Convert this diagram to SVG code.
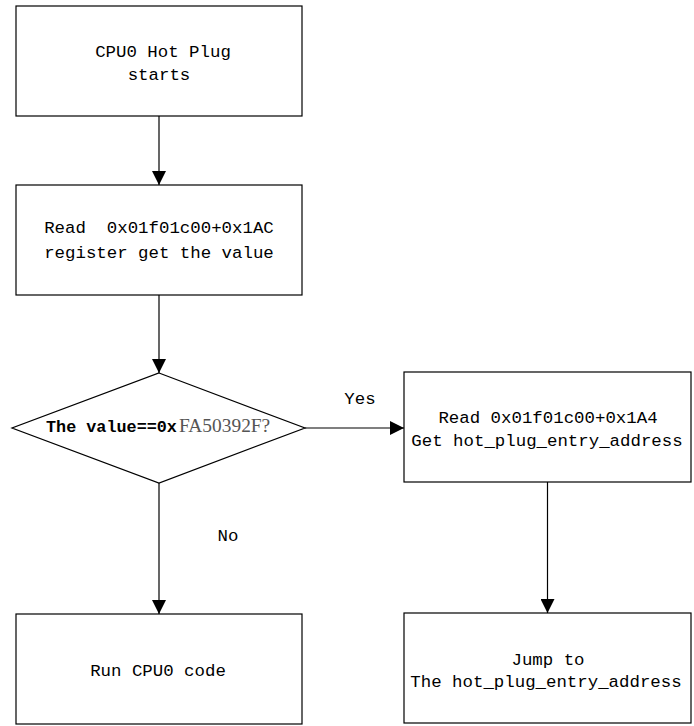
<svg xmlns="http://www.w3.org/2000/svg" width="694" height="726" viewBox="0 0 694 726">
<defs>
<marker id="arr" viewBox="0 0 14 14" refX="14" refY="7" markerWidth="14" markerHeight="14" markerUnits="userSpaceOnUse" orient="auto">
<path d="M0,0 L14,7 L0,14 Z" fill="#000"/>
</marker>
<style>
.box{fill:#fff;stroke:#000;stroke-width:1.2}
.t{font-family:"Liberation Mono","DejaVu Sans Mono",monospace;font-size:17.4px;fill:#000;text-anchor:middle}
.c{fill:none;stroke:#000;stroke-width:1.2;marker-end:url(#arr)}
</style>
</defs>
<rect width="694" height="726" fill="#fff"/>
<g id="connectors">
<line class="c" x1="159" y1="116" x2="159" y2="185"/>
<line class="c" x1="159" y1="295" x2="159" y2="373"/>
<line class="c" x1="305" y1="428" x2="404" y2="428"/>
<line class="c" x1="159" y1="483" x2="159" y2="614"/>
<line class="c" x1="547.5" y1="482" x2="547.5" y2="613"/>
<text class="t" x="360" y="404">Yes</text>
<text class="t" x="228" y="541">No</text>
</g>
<g id="start">
<rect class="box" x="16" y="6" width="286" height="110"/>
<text class="t" x="163" y="57">CPU0 Hot Plug</text>
<text class="t" x="159" y="80">starts</text>
</g>
<g id="read1">
<rect class="box" x="16" y="185" width="286" height="110"/>
<text class="t" x="159" y="233" xml:space="preserve">Read  0x01f01c00+0x1AC</text>
<text class="t" x="159" y="258">register get the value</text>
</g>
<g id="decision">
<polygon class="box" points="159,373 305,428 159,483 12,428"/>
<text x="46" y="432" style="font-family:'Liberation Mono','DejaVu Sans Mono',monospace;font-size:16.8px;font-weight:bold;fill:#000">The value==0x</text>
<text x="179" y="432" style="font-family:'Liberation Serif','DejaVu Serif',serif;font-size:19.4px;fill:#555">FA50392F?</text>
</g>
<g id="read2">
<rect class="box" x="404" y="372" width="287" height="110"/>
<text class="t" x="548" y="423">Read 0x01f01c00+0x1A4</text>
<text class="t" x="547" y="446">Get hot_plug_entry_address</text>
</g>
<g id="jump">
<rect class="box" x="404" y="613" width="287" height="110"/>
<text class="t" x="548" y="665">Jump to</text>
<text class="t" x="546" y="687">The hot_plug_entry_address</text>
</g>
<g id="run">
<rect class="box" x="16" y="614" width="286" height="110"/>
<text class="t" x="158" y="676">Run CPU0 code</text>
</g>
</svg>
